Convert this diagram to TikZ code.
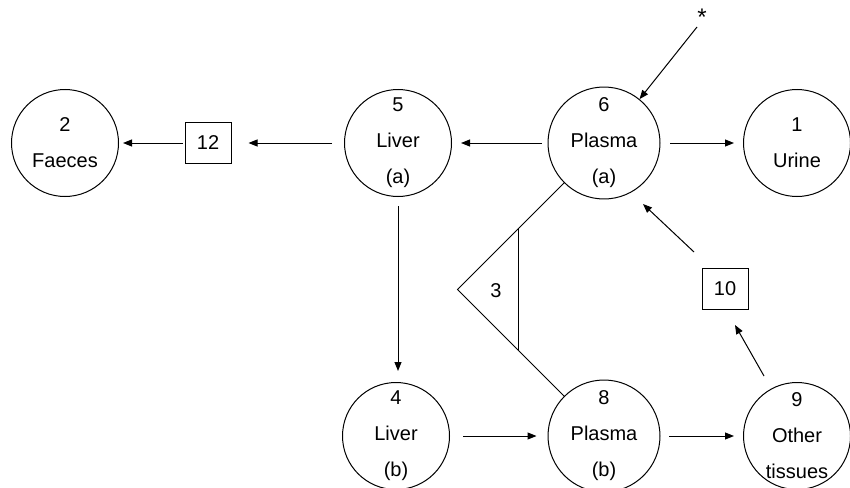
\documentclass[tikz,border=0pt]{standalone}
\usepackage{fontspec}
\setmainfont{Liberation Sans}
\usetikzlibrary{arrows.meta,calc}
\begin{document}
\begin{tikzpicture}[x=1pt,y=-1pt,
  comp/.style={draw,circle,line width=1pt,minimum size=107pt,inner sep=0pt,align=center,font=\fontsize{20}{36}\selectfont},
  bx/.style={draw,rectangle,line width=1pt,minimum width=46pt,minimum height=41pt,inner sep=0pt,font=\fontsize{20}{24}\selectfont},
  lbl/.style={font=\fontsize{20}{24}\selectfont,inner sep=0pt},
  arr/.style={line width=1pt,-{Triangle[length=9pt,width=7pt]}},
  ln/.style={line width=1pt}]
\useasboundingbox (0,0) rectangle (850,487);
\node[comp] (two) at (65,143) {2\\Faeces};
\node[comp] (five) at (398,143) {5\\Liver\\(a)};
\node[comp] (six) at (604,143) {6\\Plasma\\(a)};
\node[comp] (one) at (797,143) {1\\Urine};
\node[comp] (four) at (396,436) {4\\Liver\\(b)};
\node[comp] (eight) at (604,436) {8\\Plasma\\(b)};
\node[comp] (nine) at (797,436) {9\\Other\\tissues};
\node[bx] (twelve) at (208,143) {12};
\node[bx] (ten) at (725,289) {10};
\node[font=\fontsize{24}{24}\selectfont,inner sep=0pt] (star) at (702,17) {*};
\node[lbl] (three) at (496,291) {3};
% arrows
\draw[arr,shorten <=10pt,shorten >=9pt] (six) -- (one);
\draw[arr,shorten <=6pt,shorten >=9pt] (six) -- (five);
\draw[arr,shorten <=12pt,shorten >=17pt] (five) -- (twelve);
\draw[arr,shorten <=2pt,shorten >=4pt] (twelve) -- (two);
\draw[arr,shorten <=9pt,shorten >=11pt] (five) -- (five|-four.north);
\draw[arr,shorten <=13pt,shorten >=11pt] (four) -- (eight);
\draw[arr,shorten <=9pt,shorten >=9pt] (eight) -- (nine);
\coordinate (st) at (697,27);
\draw[arr] (st) -- (six.51);
\coordinate (t1) at (694,252);
\coordinate (t2) at (643,204);
\draw[arr] (t1) -- (t2);
\coordinate (n1) at (764,376);
\coordinate (n2) at (735,325);
\draw[arr] (n1) -- (n2);
% triangle
\coordinate (apex) at (457.5,289.5);
\coordinate (ttop) at (518,229);
\coordinate (tbot) at (518,350);
\draw[ln] (six.225) -- (apex) -- (eight.135);
\draw[ln] (ttop) -- (tbot);
\end{tikzpicture}
\end{document}
